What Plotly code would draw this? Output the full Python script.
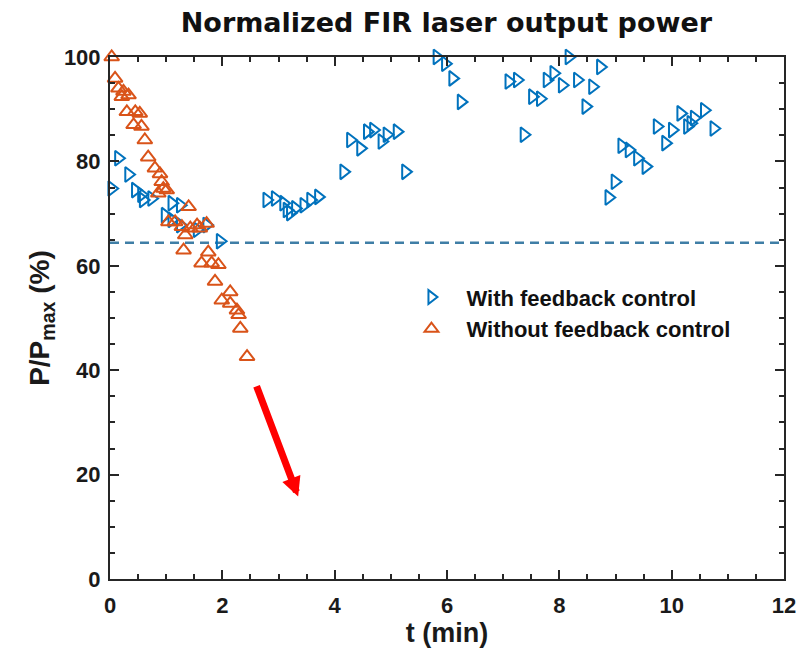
import plotly.graph_objects as go

# Time (min) and normalized power (%) with active feedback control
t_fb = [0.03, 0.15, 0.33, 0.45, 0.56, 0.59, 0.74, 0.98, 1.10, 1.10, 1.25, 1.25,
        1.55, 1.72, 1.96, 2.79, 2.94, 3.09, 3.15, 3.21, 3.30, 3.45, 3.57, 3.71,
        4.16, 4.28, 4.46, 4.58, 4.69, 4.84, 4.93, 5.11, 5.26,
        5.82, 5.97, 6.10, 6.25,
        7.10, 7.25, 7.37, 7.52, 7.66, 7.78, 7.90, 8.05, 8.17, 8.32, 8.47, 8.59, 8.73,
        8.88, 8.99, 9.11, 9.24, 9.39, 9.54,
        9.74, 9.89, 10.01, 10.16, 10.28, 10.34, 10.40, 10.58, 10.75]
p_fb = [74.8, 80.6, 77.5, 74.5, 73.6, 72.6, 72.9, 69.7, 72.0, 68.8, 71.6, 67.8,
        66.9, 67.8, 64.7, 72.6, 72.9, 72.0, 70.7, 70.1, 71.0, 71.6, 72.6, 73.2,
        78.0, 84.1, 82.5, 85.7, 86.0, 83.8, 85.1, 85.7, 78.0,
        100.0, 98.7, 95.9, 91.4,
        95.3, 95.6, 85.1, 92.4, 92.0, 95.6, 96.9, 94.6, 100.0, 95.6, 90.5, 94.3, 98.1,
        73.1, 76.1, 83.0, 82.2, 80.6, 79.0,
        86.7, 83.5, 86.0, 89.2, 86.7, 87.3, 88.3, 89.8, 86.3]

# Time (min) and normalized power (%) without feedback control
t_nofb = [0.03, 0.09, 0.15, 0.21, 0.24, 0.33, 0.30, 0.45, 0.53, 0.42, 0.56, 0.62,
          0.68, 0.80, 0.89, 0.92, 0.95, 0.86, 1.01, 1.04, 1.16, 1.28, 1.40, 1.43,
          1.55, 1.60, 1.72, 1.34, 1.31, 1.75, 1.63, 1.81, 1.93, 1.87, 2.14, 1.99,
          2.14, 2.26, 2.29, 2.32, 2.44]
p_nofb = [100.0, 95.9, 94.0, 92.4, 93.4, 92.7, 89.5, 89.5, 89.2, 87.0, 86.7, 84.1,
          80.8, 78.7, 77.6, 76.1, 74.8, 73.9, 74.5, 68.4, 68.4, 67.5, 71.3, 67.2,
          67.8, 67.2, 68.1, 65.9, 63.0, 62.6, 60.5, 60.5, 60.2, 57.0, 55.0, 53.4,
          52.8, 51.5, 50.6, 48.0, 42.6]

threshold = 64.4          # dashed reference level (%)
arrow_tail = (2.60, 37.2)  # trend arrow start (t, %)
arrow_head = (3.35, 15.8)  # trend arrow tip (t, %)

BLUE = "#0072BD"
ORANGE = "#D95319"
AXIS = "#262626"
SANS = "Liberation Sans, Arial, sans-serif"

fig = go.Figure()
fig.add_trace(go.Scatter(
    x=t_fb, y=p_fb, mode="markers", name="<b>With feedback control</b>",
    marker=dict(symbol="triangle-right-open", size=13, color=BLUE,
                line=dict(width=2, color=BLUE)),
    cliponaxis=False))
fig.add_trace(go.Scatter(
    x=t_nofb, y=p_nofb, mode="markers", name="<b>Without feedback control</b>",
    marker=dict(symbol="triangle-up-open", size=13, color=ORANGE,
                line=dict(width=2, color=ORANGE)),
    cliponaxis=False))

fig.add_shape(type="line", xref="x", yref="y", x0=0, x1=12, y0=threshold, y1=threshold,
              line=dict(color="#3f7ea6", width=2.5, dash="9px,6px"), layer="below")

fig.add_annotation(x=arrow_head[0], y=arrow_head[1], ax=arrow_tail[0], ay=arrow_tail[1],
                   xref="x", yref="y", axref="x", ayref="y", text="",
                   showarrow=True, arrowhead=2, arrowsize=0.55, arrowwidth=7,
                   arrowcolor="#ff0000")

axis_common = dict(
    showline=True, linecolor=AXIS, linewidth=2, mirror="ticks",
    ticks="inside", ticklen=9, tickwidth=2, tickcolor=AXIS,
    showgrid=False, zeroline=False, automargin=False,
    tickfont=dict(family=SANS, size=22, color="#1a1a1a", weight="bold"),
)

fig.update_xaxes(range=[0, 12], dtick=2, tick0=0, ticklabelstandoff=6,
                 minor=dict(ticks="inside", ticklen=5, tickwidth=1.5, dtick=0.5, tickcolor=AXIS),
                 title=dict(text="<b>t (min)</b>", font=dict(family=SANS, size=27, color="#1a1a1a"),
                            standoff=6),
                 **axis_common)
fig.update_yaxes(range=[0, 100], dtick=20, tick0=0, ticklabelstandoff=3,
                 minor=dict(ticks="inside", ticklen=5, tickwidth=1.5, dtick=5, tickcolor=AXIS),
                 title=dict(text="<b>P/P<sub>max</sub> (%)</b>",
                            font=dict(family=SANS, size=28, color="#1a1a1a"), standoff=6),
                 **axis_common)

fig.update_layout(
    width=800, height=659,
    margin=dict(l=110, r=16, t=57, b=80),
    paper_bgcolor="white", plot_bgcolor="white",
    title=dict(text="<b>Normalized FIR laser output power</b>", x=0.558, xanchor="center",
               y=0.98, yanchor="top",
               font=dict(family="DejaVu Sans, Verdana, sans-serif", size=27, color="#111111")),
    legend=dict(x=0.425, y=0.58, xanchor="left", yanchor="top",
                bgcolor="rgba(0,0,0,0)", itemsizing="constant", itemwidth=60,
                font=dict(family=SANS, size=22, color="#111111"),
                tracegroupgap=0),
    showlegend=True,
)

fig.write_html("out.html")
